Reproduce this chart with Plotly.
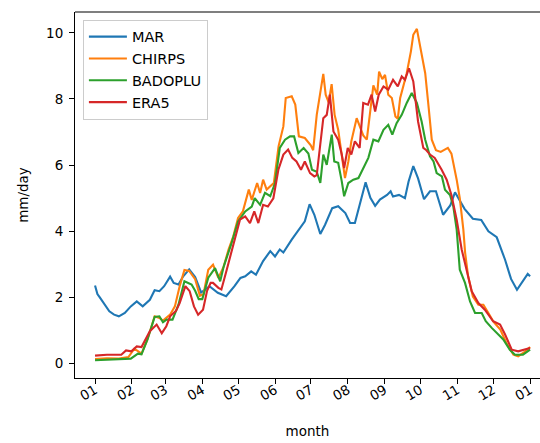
import pandas as pd
import plotly.graph_objects as go

BASE = pd.Timestamp("2001-01-01")

MAR_days = [0,2,4,8,12,16,20,25,30,35,40,46,50,54,58,63,66,70,74,79,84,89,96,103,110,117,122,126,131,135,141,147,151,155,158,165,171,176,180,184,189,193,199,204,210,214,218,222,227,231,235,239,245,248,250,255,260,263,267,271,276,281,286,292,298,302,310,317,324,330,337,344,349,354,358,363,365]
MAR_vals = [2.36,2.1,2.0,1.78,1.58,1.48,1.43,1.53,1.73,1.88,1.73,1.93,2.22,2.19,2.34,2.63,2.44,2.39,2.64,2.85,2.62,2.15,2.34,2.14,2.04,2.34,2.59,2.64,2.79,2.69,3.1,3.4,3.24,3.45,3.36,3.75,4.05,4.3,4.82,4.5,3.92,4.2,4.7,4.76,4.55,4.25,4.25,4.8,5.48,5.01,4.77,4.96,5.1,5.21,5.05,5.1,5.0,5.5,5.97,5.6,4.97,5.21,5.21,4.5,4.78,5.18,4.68,4.38,4.34,4.0,3.82,3.14,2.56,2.23,2.44,2.71,2.64]

CHIRPS_days = [0,10,20,28,33,39,44,50,54,57,63,67,71,75,79,84,88,91,95,99,103.5,108,112,116,120,124,129,131.5,136,138.5,141,144,150,154,158,160,165,168,171,176,181,183,186,189,191.5,193.5,196,198.5,201,204,207.5,209.7,212.5,215,219.5,222,225,228,231,233.5,236.7,238.3,241,243.3,246,249,252,254,256,258.6,261.5,265,267,270,272.6,275,277,280,282.5,286,290,296,299,303.4,306,309,310.5,313,317,321.6,325.8,330,334,340,345,351,355,361,365]
CHIRPS_vals = [0.14,0.16,0.15,0.2,0.45,0.3,0.73,1.43,1.38,1.3,1.48,1.73,2.34,2.83,2.8,2.55,2.05,2.1,2.84,2.99,2.59,2.94,3.45,3.85,4.4,4.6,5.26,4.95,5.46,5.16,5.56,5.26,5.46,6.57,7.17,8.03,8.08,7.83,6.87,6.82,6.6,6.45,7.52,8.13,8.76,8.13,7.9,8.45,7.52,7.07,6.22,5.61,6.11,6.72,7.42,7.2,6.9,6.77,7.73,8.41,8.13,8.83,8.6,8.73,8.13,8.03,7.47,7.4,8.03,8.38,8.78,9.44,9.94,10.12,9.64,9.24,8.78,7.7,6.77,6.45,6.4,6.52,6.35,5.56,5.0,4.05,3.35,2.64,2.03,1.78,1.78,1.53,1.28,1.03,0.63,0.27,0.22,0.37,0.5]

BADOPLU_days = [0,10,20,30,36,39,44,50,54,57,60,65,70,75,81,84,87,90,95,100.7,105,108,114.6,120,126,131.5,134,138.5,142.6,147,151,155,159.4,163.6,167,170.6,175,179,182,186,189,191.5,194.4,198.6,200.7,204,207,209,212.5,216.7,221,225,229.3,233.5,237.7,242,246,249.4,253,257.3,261.5,265.7,270,274,277,281,284,286.6,291,293.6,297.8,300.6,303.4,306,310.4,314.6,318.8,324.4,327.8,332.8,338.4,342.5,348,352.3,359,365]
BADOPLU_vals = [0.1,0.12,0.12,0.15,0.3,0.28,0.73,1.41,1.43,1.25,1.33,1.33,1.78,2.49,2.39,2.2,1.95,1.95,2.6,2.89,2.49,2.94,3.65,4.3,4.6,4.75,5.0,4.8,5.16,5.06,5.46,6.52,6.77,6.87,6.87,6.37,6.52,6.35,5.86,5.8,5.46,6.32,6.01,6.92,6.11,6.07,5.51,5.06,5.46,5.56,5.61,5.91,6.22,6.77,6.72,7.07,7.22,6.92,7.27,7.52,7.88,8.18,7.88,7.32,6.77,6.27,6.11,5.76,5.66,5.26,5.1,4.75,4.05,2.84,2.44,1.88,1.53,1.53,1.28,1.08,0.88,0.73,0.42,0.27,0.27,0.42]

ERA5_days = [0,10,22,26,30.5,35,39,46,51.7,56,59.8,63,68,71,75.8,79.4,83,86.5,90.6,94,97,99,103.5,106,110.5,116,121.6,126,130,133.6,137,141,145,149.6,153.8,158,162,165.5,169,172.8,176,180.4,184,186,188.8,191.5,194.4,197,200,204,207,209,212,215,218,222,225,229,232,235,238,242,246,250,254,257.3,260,263.4,267,271,275.4,278,281,285,290.8,295,299,303.4,307.6,311.8,316,321.6,327,334,339.8,344,349.6,355,360,365]
ERA5_vals = [0.24,0.27,0.27,0.4,0.37,0.52,0.5,0.98,1.18,0.92,1.13,1.43,1.6,1.83,2.34,2.19,1.73,1.48,1.63,2.2,2.44,2.44,2.29,2.24,2.84,3.55,4.35,4.45,4.25,4.6,4.25,4.8,4.75,5.0,5.86,6.32,6.47,6.22,6.11,5.86,6.11,5.76,5.66,5.7,6.52,7.42,7.52,8.13,7.02,6.77,6.32,5.91,6.52,6.32,6.72,6.52,7.88,7.83,8.13,7.62,8.13,8.38,8.28,8.58,8.38,8.68,8.58,8.93,8.53,7.32,6.52,6.45,6.32,6.22,5.86,5.56,5.1,4.35,3.45,2.84,2.19,1.83,1.63,1.28,1.18,0.88,0.42,0.37,0.42,0.47]

SERIES = [
    ("MAR", MAR_days, MAR_vals, "#1f77b4"),
    ("CHIRPS", CHIRPS_days, CHIRPS_vals, "#ff7f0e"),
    ("BADOPLU", BADOPLU_days, BADOPLU_vals, "#2ca02c"),
    ("ERA5", ERA5_days, ERA5_vals, "#d62728"),
]

FONT = "DejaVu Sans"

fig = go.Figure()
for name, days, vals, color in SERIES:
    assert len(days) == len(vals), name
    x = BASE + pd.to_timedelta(days, unit="D")
    fig.add_trace(go.Scatter(x=x, y=vals, mode="lines", name=name,
                             line=dict(color=color, width=2.1)))

x0 = BASE - pd.Timedelta(days=16.8)
x1 = BASE + pd.Timedelta(days=373.3)

fig.update_layout(
    width=540, height=443,
    margin=dict(l=75, r=0, t=12, b=65, autoexpand=False),
    plot_bgcolor="white", paper_bgcolor="white",
    font=dict(family=FONT, size=13.5, color="black"),
    showlegend=True,
    legend=dict(x=0.017, y=0.979, xanchor="left", yanchor="top",
                bgcolor="rgba(255,255,255,0.8)", bordercolor="#cccccc", borderwidth=1,
                font=dict(family=FONT, size=14.5), tracegroupgap=0,
                itemwidth=38),
    shapes=[dict(type="line", xref="paper", yref="paper", x0=0, x1=1, y0=1, y1=1,
                 line=dict(color="black", width=1.1))],
)
fig.update_xaxes(
    range=[x0, x1], tick0="2001-01-01", dtick="M1", tickformat="%m",
    tickangle=-30, ticks="outside", ticklen=5, tickwidth=1.1, tickcolor="black",
    ticklabelstandoff=-7,
    showline=True, linecolor="black", linewidth=1.1, mirror=False,
    showgrid=False, zeroline=False, automargin=False,
    title=dict(text="month", standoff=24, font=dict(size=13.5)),
)
fig.update_yaxes(
    range=[-0.435, 10.63], tickvals=[0, 2, 4, 6, 8, 10],
    ticks="outside", ticklen=5, tickwidth=1.1, tickcolor="black",
    ticklabelstandoff=3,
    showline=True, linecolor="black", linewidth=1.1, mirror=False,
    showgrid=False, zeroline=False, automargin=False,
    title=dict(text="mm/day", standoff=14, font=dict(size=13.5)),
)

fig.write_html("out.html", config={"displayModeBar": False},
               post_script="document.body.style.margin='0';document.body.style.overflow='hidden';")
